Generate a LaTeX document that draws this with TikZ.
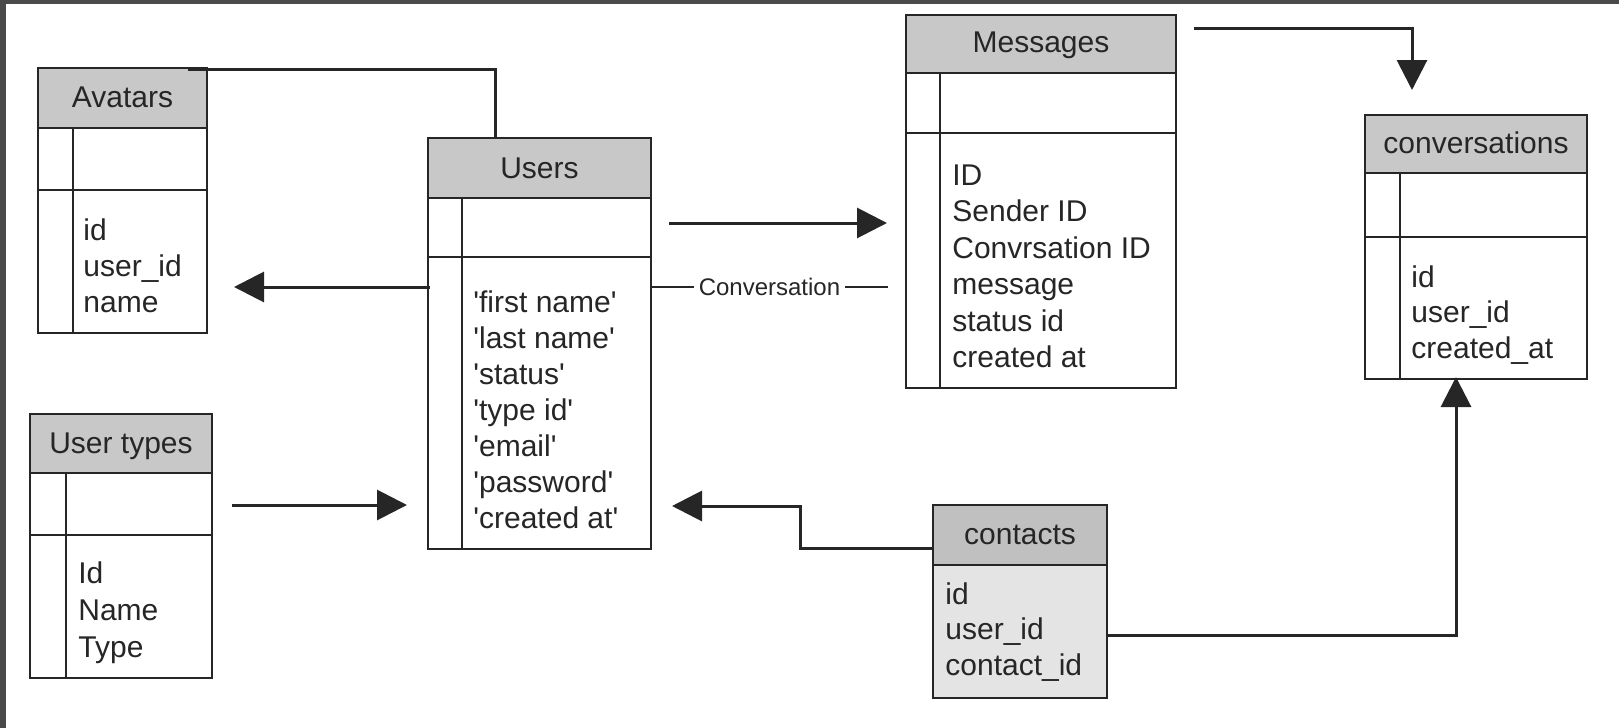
\documentclass[tikz,border=0pt]{standalone}
\usepackage{fontspec}
\setmainfont{Liberation Sans}
\usetikzlibrary{arrows.meta,fit}
\newcommand\sq{\textquotesingle}
\definecolor{hdr}{HTML}{C8C8C8}
\definecolor{chdr}{HTML}{C0C0C0}
\definecolor{cbody}{HTML}{E4E4E4}
\definecolor{ink}{HTML}{262626}
\definecolor{frame}{HTML}{4A4A4A}
\tikzset{
  tblline/.style={line width=1pt,draw=ink},
  tbox/.style={tblline,inner sep=0pt},
  ttl/.style={anchor=base,inner sep=0pt,text=ink,font=\fontsize{15}{18}\selectfont},
  fld/.style={anchor=base west,inner sep=0pt,text=ink,font=\fontsize{15}{18}\selectfont},
  conn/.style={line width=1.5pt,draw=ink},
  arr/.style={conn,-{Triangle[length=15pt,width=15pt]}},
  lbl/.style={fill=white,inner sep=2.5pt,text=ink,font=\fontsize{12}{14}\selectfont}
}
\newcommand\ertable[8]{%
  \fill[hdr] (#2,#3) rectangle (#4,#6);
  \draw[tblline] (#2,#6) -- (#4,#6);
  \draw[tblline] (#2,#7) -- (#4,#7);
  \draw[tblline] (#8,#6) -- (#8,#5);
  \node[tbox,draw,fit={(#2,#3)(#4,#5)}] (#1) {};
}
\begin{document}
\begin{tikzpicture}[x=0.5pt,y=-0.5pt]
\useasboundingbox (0,0) rectangle (1619,728);
\fill[white] (0,0) rectangle (1619,728);
\fill[frame] (0,0) rectangle (1619,4);
\fill[frame] (0,0) rectangle (6,728);

% Avatars
\ertable{avatars}{38}{68}{207}{333}{128}{190}{73}
\node[ttl] (avt) at (122.5,107) {Avatars};
\foreach \t [count=\i from 0] in {id,user\_id,name}
  \node[fld] (avf\i) at (83,240+36*\i) {\t};

% Users
\ertable{users}{428}{138}{651}{549}{198}{257}{462}
\node[ttl] (ust) at (539.5,178) {Users};
\foreach \t [count=\i from 0] in {\sq first name\sq,\sq last name\sq,\sq status\sq,\sq type id\sq,\sq email\sq,\sq password\sq,\sq created at\sq}
  \node[fld] (usf\i) at (473,312+36*\i) {\t};

% User types
\ertable{usertypes}{30}{414}{212}{678}{473}{535}{66}
\node[ttl] (utt) at (121,453) {User types};
\foreach \t [count=\i from 0] in {Id,Name,Type}
  \node[fld] (utf\i) at (78,583+37*\i) {\t};

% Messages
\ertable{messages}{906}{15}{1176}{388}{73}{133}{940}
\node[ttl] (mst) at (1041,53) {Messages};
\foreach \t [count=\i from 0] in {ID,Sender ID,Convrsation ID,message,status id,created at}
  \node[fld] (msf\i) at (952,185+36.5*\i) {\t};

% conversations
\ertable{conversations}{1365}{115}{1587}{379}{173}{237}{1400}
\node[ttl] (cvt) at (1476,153) {conversations};
\foreach \t [count=\i from 0] in {id,user\_id,created\_at}
  \node[fld] (cvf\i) at (1411,287+35.5*\i) {\t};

% contacts
\fill[cbody] (933,565) rectangle (1107,698);
\fill[chdr] (933,505) rectangle (1107,565);
\draw[tblline] (933,565) -- (1107,565);
\node[tbox,draw,fit={(933,505)(1107,698)}] (contacts) {};
\node[ttl] (ctt) at (1020,544) {contacts};
\foreach \t [count=\i from 0] in {id,user\_id,contact\_id}
  \node[fld] (ctf\i) at (945,604+35.5*\i) {\t};

% connector end points
\coordinate (avs) at (188,69);
\coordinate (avk) at (495,69);
\coordinate (usn) at (495,138);
\coordinate (usw) at (430,287);
\coordinate (avtip) at (234,287);
\coordinate (usr) at (669,223);
\coordinate (mstip) at (887,223);
\coordinate (use) at (651,287);
\coordinate (msw) at (888,287);
\coordinate (uts) at (232,505);
\coordinate (ustip1) at (407,505);
\coordinate (ctw) at (933,548);
\coordinate (k1) at (800,548);
\coordinate (k2) at (800,506);
\coordinate (ustip2) at (672,506);
\coordinate (mse) at (1194,28);
\coordinate (k3) at (1412,28);
\coordinate (cvtip1) at (1412,90);
\coordinate (cte) at (1107,635);
\coordinate (k4) at (1456,635);
\coordinate (cvtip2) at (1456,377);

% connectors
\draw[conn] (avs) -- (avk) -- (usn);
\draw[arr] (usw) -- (avtip);
\draw[arr] (usr) -- (mstip);
\draw[line width=1pt,draw=ink] (use) -- node[lbl] (convlbl) {Conversation} (msw);
\draw[arr] (uts) -- (ustip1);
\draw[arr] (ctw) -- (k1) -- (k2) -- (ustip2);
\draw[arr] (mse) -- (k3) -- (cvtip1);
\draw[arr] (cte) -- (k4) -- (cvtip2);
\end{tikzpicture}
\end{document}
